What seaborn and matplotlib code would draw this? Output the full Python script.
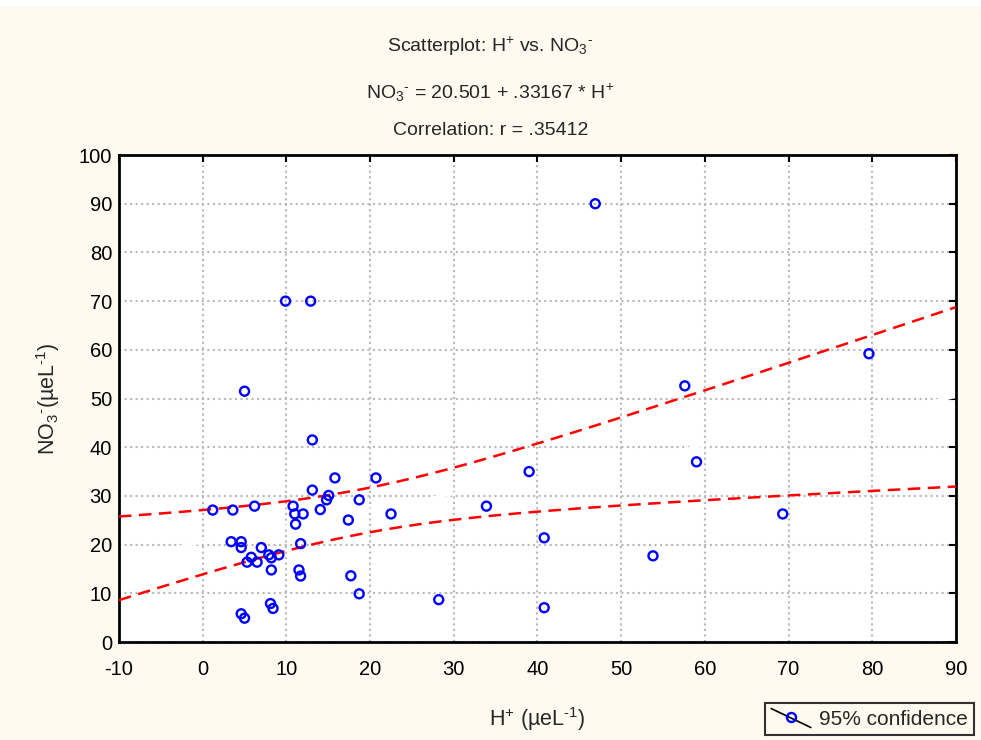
import numpy as np
import pandas as pd
import matplotlib
matplotlib.use('Agg')
import matplotlib.pyplot as plt
import seaborn as sns
from matplotlib.legend_handler import HandlerBase
from matplotlib.lines import Line2D
from matplotlib.patches import Rectangle

h_plus = [1.2, 3.6, 6.2, 3.4, 4.6, 4.6, 7.0, 5.8, 5.3, 6.5, 7.9, 8.2, 9.1, 8.2,
          4.6, 5.0, 8.1, 8.4, 5.0, 9.9, 12.9, 13.1, 13.1, 15.8, 20.7, 15.05,
          14.8, 18.7, 14.05, 10.8, 11.0, 12.0, 11.1, 17.4, 22.5, 11.7, 11.5,
          11.7, 17.7, 18.7, 28.2, 39.0, 33.9, 40.8, 40.8, 53.8, 59.0, 46.9,
          57.6, 79.6, 69.3]
no3 = [27.1, 27.1, 27.9, 20.6, 20.6, 19.4, 19.4, 17.4, 16.4, 16.4, 17.9, 17.3,
       17.9, 14.8, 5.8, 4.9, 7.9, 6.9, 51.5, 70.0, 70.0, 41.5, 31.2, 33.7,
       33.7, 30.1, 29.2, 29.2, 27.2, 27.9, 26.3, 26.3, 24.2, 25.05, 26.3,
       20.2, 14.8, 13.55, 13.6, 9.9, 8.7, 35.0, 27.9, 21.4, 7.05, 17.7, 37.0,
       90.0, 52.6, 59.2, 26.3]

intercept = 20.501
slope = 0.33167
x_ticks = list(range(-10, 91, 10))
y_ticks = list(range(0, 101, 10))

df = pd.DataFrame({'H': h_plus, 'NO3': no3})

# 95% confidence band for the regression line
n = len(df)
xbar = df['H'].mean()
sxx = ((df['H'] - xbar) ** 2).sum()
resid = df['NO3'] - (intercept + slope * df['H'])
s = np.sqrt((resid ** 2).sum() / (n - 2))
t_crit = 2.0096  # t(0.975, 49)
xs = np.linspace(-10, 90, 200)
fit = intercept + slope * xs
half = t_crit * s * np.sqrt(1 / n + (xs - xbar) ** 2 / sxx)
band = pd.DataFrame({'x': xs, 'fit': fit, 'lo': fit - half, 'hi': fit + half})

sns.set_style('white')
plt.rcParams['font.family'] = ['Liberation Sans', 'DejaVu Sans']
plt.rcParams['mathtext.fontset'] = 'custom'
plt.rcParams['mathtext.rm'] = 'Liberation Sans'
plt.rcParams['mathtext.it'] = 'Liberation Sans'
plt.rcParams['axes.unicode_minus'] = False

bg = '#fffaef'
fig = plt.figure(figsize=(9.81, 7.40), dpi=100, facecolor=bg)
ax = fig.add_axes([0.1213, 0.1324, 0.8532, 0.6581])
ax.set_facecolor('white')
fig.patches.append(Rectangle((0, 0.991), 1, 0.009, transform=fig.transFigure,
                             facecolor='white', edgecolor='none'))

sns.lineplot(data=band, x='x', y='fit', ax=ax, color='white', linewidth=2, zorder=2)
sns.lineplot(data=band, x='x', y='lo', ax=ax, color='#ff0000', linewidth=1.8,
             linestyle=(0, (5, 3)), zorder=3)
sns.lineplot(data=band, x='x', y='hi', ax=ax, color='#ff0000', linewidth=1.8,
             linestyle=(0, (5, 3)), zorder=3)
sns.scatterplot(data=df, x='H', y='NO3', ax=ax, marker='o', s=42,
                facecolor='none', edgecolor='#0000ff', linewidth=1.7, zorder=4)

ax.set_xlim(-10, 90)
ax.set_ylim(0, 100)
ax.set_xticks(x_ticks)
ax.set_yticks(y_ticks)
ax.grid(True, color='#b8b8b8', linestyle=':', linewidth=1.5, zorder=0)
ax.set_axisbelow(True)
for sp in ax.spines.values():
    sp.set_color('black')
    sp.set_linewidth(2)
ax.tick_params(direction='in', length=5, width=1.5, top=True, right=True,
               labelsize=14.5, colors='black')
ax.tick_params(axis='x', pad=13)
ax.tick_params(axis='y', pad=5)

hy = r'$^{\text{-}}$'
ax.set_xlabel(r'H$^{+}$ (µeL$^{\text{-1}}$)', fontsize=15.5, labelpad=19)
ax.set_ylabel(r'NO$_{3}$' + hy + r'(µeL$^{\text{-1}}$)', fontsize=15.5, labelpad=12)

fig.text(0.5, 0.938, r'Scatterplot: H$^{+}$ vs. NO$_{3}$' + hy, ha='center',
         va='center', fontsize=14)
fig.text(0.5, 0.875, r'NO$_{3}$' + hy + r' = 20.501 + .33167 * H$^{+}$', ha='center',
         va='center', fontsize=14)
fig.text(0.5, 0.824, 'Correlation: r = .35412', ha='center', va='center',
         fontsize=14)


class DiagHandler(HandlerBase):
    def create_artists(self, legend, orig, xd, yd, width, height, fontsize, trans):
        line = Line2D([xd, xd + width], [yd + height * 1.1, yd - height * 0.2],
                      color='black', linewidth=1.2, transform=trans)
        dot = Line2D([xd + width / 2], [yd + height / 2], marker='o',
                     markersize=6.5, markerfacecolor='none',
                     markeredgecolor='#0000ff', markeredgewidth=1.7,
                     linestyle='none', transform=trans)
        return [line, dot]


handle = Line2D([], [])
leg = fig.legend([handle], ['95% confidence'], handler_map={Line2D: DiagHandler()},
                 loc='lower right', bbox_to_anchor=(0.993, 0.007), fontsize=15,
                 frameon=True, fancybox=False, handlelength=1.9, handletextpad=0.4,
                 borderpad=0.3, borderaxespad=0)
leg.get_frame().set_edgecolor('black')
leg.get_frame().set_linewidth(1.5)
leg.get_frame().set_facecolor(bg)

fig.savefig('out.png', dpi=100, facecolor=bg)
